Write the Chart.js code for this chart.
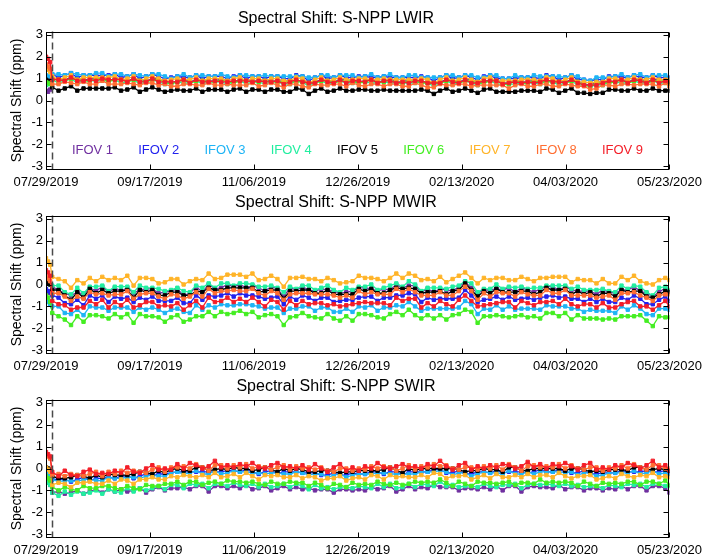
<!DOCTYPE html>
<html><head><meta charset="utf-8">
<script src="https://cdn.jsdelivr.net/npm/chart.js@4.4.1/dist/chart.umd.min.js"></script>
<style>
html,body{margin:0;padding:0;background:#fff;}
body{width:707px;height:557px;overflow:hidden;position:relative;}
.p{position:absolute;left:0;width:707px;height:186px;}
</style>
</head><body>
<div class="p" style="top:0px"><canvas id="c0" width="707" height="186"></canvas></div>
<div class="p" style="top:184px"><canvas id="c1" width="707" height="186"></canvas></div>
<div class="p" style="top:368px"><canvas id="c2" width="707" height="186"></canvas></div>
<script>
// ---- categories / ticks ----
const days = [0,1,2,3,6,9,12,15,18,21,24,27,30,33,36,39,42,45,48,51,54,57,60,63,66,69,72,75,78,81,84,87,90,93,96,99,102,105,108,111,114,117,120,123,126,129,132,135,138,141,144,147,150,153,156,159,162,165,168,171,174,177,180,183,186,189,192,195,198,201,204,207,210,213,216,219,222,225,228,231,234,237,240,243,246,249,252,255,258,261,264,267,270,273,276,279,282,285,288,291,294,297,299];
const xTickDays = [0,49.83,99.67,149.5,199.33,249.17,299];
const xTickLabels = ['07/29/2019','09/17/2019','11/06/2019','12/26/2019','02/13/2020','04/03/2020','05/23/2020'];
const yTicks = [-3,-2,-1,0,1,2,3];
const dashDay = 2.75;
const ifovNames = ['IFOV 1','IFOV 2','IFOV 3','IFOV 4','IFOV 5','IFOV 6','IFOV 7','IFOV 8','IFOV 9'];
const ifovColors = ['#7030A0','#2222EE','#1EB4F5','#22EEA0','#000000','#44EE22','#FFB428','#FF6E32','#F41E28'];
const panelTitles = ['Spectral Shift: S-NPP LWIR','Spectral Shift: S-NPP MWIR','Spectral Shift: S-NPP SWIR'];

// ---- LWIR ----
const lwir1 = [0.45,0.4,0.5, 1.0,1.0,0.95,1.05,1.0,0.95,0.95,1.05,1.05,0.9, 1.0,1.0,0.9,1.0,0.95,0.9,1.0,1.0,0.9,0.8, 0.9,1.0,0.85,0.95,0.95,0.9,0.9,1.0,0.9,0.85, 0.95,0.95,0.9,0.9,0.95,0.9,0.9,0.9,0.9,0.9, 0.9,0.85,0.85,0.95,0.95,0.85,0.95,0.95,0.95,0.85, 0.9,1.0,0.85,0.9,1.0,0.85,0.85,0.95,0.95,0.85, 0.85,0.85,0.85,0.95,0.95,0.85,0.95,0.95,0.85,0.85, 0.95,0.95,0.8,0.8,0.95,0.85,0.85,0.95,0.9,0.9, 0.9,0.9,0.85,0.95,0.9,0.75,0.7,0.85,0.85,0.85, 0.9,1.0,0.85,0.95,1.0,0.85,0.95,0.95,0.95,0.8];
const lwir2 = [1.1,1.05,1.0, 1.2,1.05,1.15,1.25,1.05,1.15,1.15,1.15,1.15,1.15, 1.2,1.05,1.1,1.2,1.0,1.1,1.2,1.1,1.0,1.05, 1.1,1.05,1.05,1.15,1.0,1.1,1.1,1.1,1.0,1.1, 1.15,1.0,1.1,1.1,1.0,1.1,1.1,1.0,1.0,1.15, 1.1,0.9,1.05,1.15,1.0,1.05,1.15,1.05,1.05,1.1, 1.1,1.05,1.05,1.1,1.05,1.05,1.05,1.05,1.05,1.1, 1.05,0.9,1.05,1.15,1.0,1.05,1.15,1.05,0.95,1.1, 1.15,1.0,1.0,1.0,1.0,1.05,1.05,1.05,1.0,1.15, 1.1,0.95,1.05,1.15,0.95,0.95,0.9,0.95,0.95,1.1, 1.1,1.05,1.05,1.15,1.05,1.05,1.15,1.05,1.05,1.05];
const lwir3 = [1.15,1.1,1.05, 1.2,1.2,1.15,1.25,1.2,1.15,1.15,1.25,1.25,1.1, 1.2,1.2,1.1,1.2,1.15,1.1,1.2,1.2,1.1,1.0, 1.1,1.2,1.05,1.15,1.15,1.1,1.1,1.2,1.1,1.05, 1.15,1.15,1.1,1.1,1.15,1.1,1.1,1.1,1.1,1.1, 1.1,1.05,1.05,1.15,1.15,1.05,1.15,1.15,1.15,1.05, 1.1,1.2,1.05,1.1,1.2,1.05,1.05,1.15,1.15,1.05, 1.05,1.05,1.05,1.15,1.15,1.05,1.15,1.15,1.05,1.05, 1.15,1.15,1.0,1.0,1.15,1.05,1.05,1.15,1.1,1.1, 1.1,1.1,1.05,1.15,1.1,0.95,0.9,1.05,1.05,1.05, 1.1,1.2,1.05,1.15,1.2,1.05,1.15,1.15,1.15,1.0];
const lwir4 = [0.7,0.75,0.8, 0.95,0.8,0.9,1.0,0.8,0.9,0.9,0.9,0.9,0.9, 0.95,0.8,0.85,0.95,0.75,0.85,0.95,0.85,0.75,0.8, 0.85,0.8,0.8,0.9,0.75,0.85,0.85,0.85,0.75,0.85, 0.9,0.75,0.85,0.85,0.75,0.85,0.85,0.75,0.75,0.9, 0.85,0.65,0.8,0.9,0.75,0.8,0.9,0.8,0.8,0.85, 0.85,0.8,0.8,0.85,0.8,0.8,0.8,0.8,0.8,0.85, 0.8,0.65,0.8,0.9,0.75,0.8,0.9,0.8,0.7,0.85, 0.9,0.75,0.75,0.75,0.75,0.8,0.8,0.8,0.75,0.9, 0.85,0.7,0.8,0.9,0.7,0.7,0.65,0.7,0.7,0.85, 0.85,0.8,0.8,0.9,0.8,0.8,0.9,0.8,0.8,0.8];
const lwir5 = [0.95,0.9,0.85, 0.6,0.45,0.55,0.65,0.45,0.55,0.55,0.55,0.55,0.55, 0.6,0.45,0.5,0.6,0.4,0.5,0.6,0.5,0.4,0.45, 0.5,0.45,0.45,0.55,0.4,0.5,0.5,0.5,0.4,0.5, 0.55,0.4,0.5,0.5,0.4,0.5,0.5,0.4,0.4,0.55, 0.5,0.3,0.45,0.55,0.4,0.45,0.55,0.45,0.45,0.5, 0.5,0.45,0.45,0.5,0.45,0.45,0.45,0.45,0.45,0.5, 0.45,0.3,0.45,0.55,0.4,0.45,0.55,0.45,0.35,0.5, 0.55,0.4,0.4,0.4,0.4,0.45,0.45,0.45,0.4,0.55, 0.5,0.35,0.45,0.55,0.35,0.35,0.3,0.35,0.35,0.5, 0.5,0.45,0.45,0.55,0.45,0.45,0.55,0.45,0.45,0.45];
const lwir6 = [0.85,0.8,0.75, 0.95,0.95,0.9,1.0,0.95,0.9,0.9,1.0,1.0,0.85, 0.95,0.95,0.85,0.95,0.9,0.85,0.95,0.95,0.85,0.75, 0.85,0.95,0.8,0.9,0.9,0.85,0.85,0.95,0.85,0.8, 0.9,0.9,0.85,0.85,0.9,0.85,0.85,0.85,0.85,0.85, 0.85,0.8,0.8,0.9,0.9,0.8,0.9,0.9,0.9,0.8, 0.85,0.95,0.8,0.85,0.95,0.8,0.8,0.9,0.9,0.8, 0.8,0.8,0.8,0.9,0.9,0.8,0.9,0.9,0.8,0.8, 0.9,0.9,0.75,0.75,0.9,0.8,0.8,0.9,0.85,0.85, 0.85,0.85,0.8,0.9,0.85,0.7,0.65,0.8,0.8,0.8, 0.85,0.95,0.8,0.9,0.95,0.8,0.9,0.9,0.9,0.75];
const lwir7 = [1.45,1.4,1.3, 1.1,0.95,1.05,1.15,0.95,1.05,1.05,1.05,1.05,1.05, 1.1,0.95,1.0,1.1,0.9,1.0,1.1,1.0,0.9,0.95, 1.0,0.95,0.95,1.05,0.9,1.0,1.0,1.0,0.9,1.0, 1.05,0.9,1.0,1.0,0.9,1.0,1.0,0.9,0.9,1.05, 1.0,0.8,0.95,1.05,0.9,0.95,1.05,0.95,0.95,1.0, 1.0,0.95,0.95,1.0,0.95,0.95,0.95,0.95,0.95,1.0, 0.95,0.8,0.95,1.05,0.9,0.95,1.05,0.95,0.85,1.0, 1.05,0.9,0.9,0.9,0.9,0.95,0.95,0.95,0.9,1.05, 1.0,0.85,0.95,1.05,0.85,0.85,0.8,0.85,0.85,1.0, 1.0,0.95,0.95,1.05,0.95,0.95,1.05,0.95,0.95,0.95];
const lwir8 = [1.65,1.55,1.45, 0.75,0.75,0.85,0.8,0.75,0.85,0.75,0.75,0.9,0.75, 0.75,0.75,0.8,0.75,0.7,0.8,0.8,0.7,0.75,0.65, 0.65,0.75,0.75,0.7,0.7,0.8,0.7,0.7,0.75,0.7, 0.7,0.7,0.8,0.65,0.7,0.8,0.7,0.6,0.75,0.75, 0.65,0.6,0.75,0.7,0.7,0.75,0.75,0.65,0.8,0.7, 0.65,0.75,0.75,0.65,0.75,0.75,0.65,0.65,0.8,0.7, 0.6,0.6,0.75,0.7,0.7,0.75,0.75,0.65,0.7,0.7, 0.7,0.7,0.7,0.55,0.7,0.75,0.65,0.65,0.75,0.75, 0.65,0.65,0.75,0.7,0.65,0.65,0.5,0.55,0.7,0.7, 0.65,0.75,0.75,0.7,0.75,0.75,0.75,0.65,0.8,0.65];
const lwir9 = [2.0,1.9,1.75, 0.95,0.95,0.9,1.05,0.9,0.9,0.95,0.9,1.0,0.95, 0.95,0.95,0.85,1.0,0.85,0.85,1.0,0.85,0.85,0.85, 0.85,0.95,0.8,0.95,0.85,0.85,0.9,0.85,0.85,0.9, 0.9,0.9,0.85,0.9,0.85,0.85,0.9,0.75,0.85,0.95, 0.85,0.8,0.8,0.95,0.85,0.8,0.95,0.8,0.9,0.9, 0.85,0.95,0.8,0.9,0.9,0.8,0.85,0.8,0.9,0.9, 0.8,0.8,0.8,0.95,0.85,0.8,0.95,0.8,0.8,0.9, 0.9,0.9,0.75,0.8,0.85,0.8,0.85,0.8,0.85,0.95, 0.85,0.85,0.8,0.95,0.8,0.7,0.7,0.7,0.8,0.9, 0.85,0.95,0.8,0.95,0.9,0.8,0.95,0.8,0.9,0.85];

// ---- MWIR ----
const mwir1 = [-0.3,-0.35,-0.4, -0.1,-0.25,-0.4,-0.5,-0.35,-0.45,-0.15,-0.3,-0.1,-0.35, -0.15,-0.3,-0.15,-0.4,-0.25,-0.2,-0.2,-0.4,-0.35,-0.3, -0.2,-0.5,-0.4,-0.1,-0.35,0,-0.2,-0.15,0,-0.1, 0,-0.15,-0.05,-0.15,-0.3,-0.1,-0.2,-0.55,-0.15,-0.25, -0.1,-0.25,-0.3,-0.2,-0.25,-0.3,-0.4,-0.35,-0.3,-0.15, -0.15,-0.2,-0.3,-0.2,-0.25,0,-0.15,-0.05,-0.05,-0.35, -0.2,-0.35,-0.2,-0.25,-0.3,-0.1,0.1,-0.15,-0.4,-0.25, -0.25,-0.2,-0.25,-0.15,-0.35,-0.15,-0.25,-0.35,-0.2,-0.1, -0.1,-0.25,-0.1,-0.25,-0.3,-0.3,-0.3,-0.45,-0.25,-0.35, -0.4,-0.25,-0.25,-0.1,-0.3,-0.4,-0.55,-0.35,-0.15,-0.3];
const mwir2 = [-0.2,-0.3,-0.35, -0.5,-0.6,-0.85,-0.9,-0.7,-0.95,-0.5,-0.65,-0.5,-0.8, -0.55,-0.65,-0.6,-0.8,-0.6,-0.7,-0.55,-0.75,-0.75,-0.75, -0.6,-0.85,-0.85,-0.5,-0.7,-0.5,-0.55,-0.5,-0.4,-0.55, -0.4,-0.5,-0.5,-0.55,-0.65,-0.6,-0.55,-0.9,-0.55,-0.7, -0.5,-0.6,-0.75,-0.6,-0.6,-0.8,-0.75,-0.7,-0.7,-0.6, -0.55,-0.55,-0.75,-0.6,-0.6,-0.5,-0.5,-0.4,-0.45,-0.8, -0.6,-0.7,-0.65,-0.65,-0.65,-0.6,-0.25,-0.5,-0.8,-0.7, -0.65,-0.55,-0.7,-0.55,-0.7,-0.65,-0.6,-0.7,-0.6,-0.55, -0.5,-0.6,-0.55,-0.65,-0.65,-0.8,-0.65,-0.8,-0.65,-0.8, -0.8,-0.6,-0.7,-0.5,-0.65,-0.9,-0.9,-0.7,-0.55,-0.75];
const mwir3 = [-0.7,-0.8,-0.9, -1.0,-1.0,-1.3,-1.35,-1.15,-1.4,-1.0,-1.05,-1.05,-1.2, -1.05,-1.05,-1.05,-1.25,-1.05,-1.15,-1.05,-1.15,-1.3,-1.15, -1.1,-1.25,-1.3,-0.95,-1.15,-0.95,-1.05,-0.9,-0.95,-0.95, -0.9,-0.9,-0.95,-1.0,-1.1,-1.05,-1.05,-1.3,-1.1,-1.1, -1.0,-1.0,-1.2,-1.05,-1.05,-1.25,-1.25,-1.1,-1.25,-1.0, -1.05,-0.95,-1.2,-1.05,-1.05,-0.95,-1.0,-0.8,-1.0,-1.2, -1.1,-1.1,-1.1,-1.1,-1.1,-1.05,-0.75,-0.9,-1.35,-1.1, -1.15,-0.95,-1.15,-1.0,-1.15,-1.1,-1.1,-1.1,-1.15,-0.95, -1.0,-1.0,-1.0,-1.1,-1.1,-1.25,-1.15,-1.2,-1.2,-1.2, -1.3,-1.0,-1.15,-0.95,-1.1,-1.35,-1.4,-1.1,-1.1,-1.15];
const mwir4 = [0.2,0.1,0.0, -0.05,-0.05,-0.35,-0.45,-0.15,-0.4,-0.1,-0.1,-0.05,-0.3, -0.1,-0.1,-0.1,-0.35,-0.05,-0.15,-0.15,-0.2,-0.3,-0.25, -0.15,-0.3,-0.35,-0.05,-0.15,0.05,-0.15,0.05,0.05,-0.05, 0.05,0.05,0,-0.1,-0.1,-0.05,-0.15,-0.35,-0.1,-0.2, -0.05,-0.05,-0.25,-0.15,-0.05,-0.25,-0.35,-0.15,-0.25,-0.1, -0.1,0,-0.25,-0.15,-0.05,0.05,-0.1,0.15,0,-0.3, -0.15,-0.15,-0.15,-0.2,-0.1,-0.05,0.15,0.05,-0.35,-0.2, -0.2,0,-0.2,-0.1,-0.15,-0.1,-0.2,-0.15,-0.15,-0.05, -0.05,-0.05,-0.05,-0.2,-0.1,-0.25,-0.25,-0.25,-0.2,-0.3, -0.35,-0.05,-0.2,-0.05,-0.1,-0.35,-0.5,-0.15,-0.1,-0.25];
const mwir5 = [0.1,0.05,0.0, -0.25,-0.25,-0.5,-0.7,-0.35,-0.6,-0.2,-0.4,-0.25,-0.4, -0.3,-0.3,-0.25,-0.6,-0.25,-0.35,-0.25,-0.5,-0.5,-0.35, -0.35,-0.5,-0.5,-0.3,-0.35,-0.15,-0.25,-0.25,-0.15,-0.15, -0.15,-0.15,-0.15,-0.35,-0.3,-0.25,-0.25,-0.65,-0.3,-0.3, -0.25,-0.25,-0.4,-0.4,-0.25,-0.45,-0.45,-0.45,-0.45,-0.2, -0.3,-0.2,-0.4,-0.4,-0.25,-0.15,-0.2,-0.15,-0.2,-0.4, -0.35,-0.35,-0.3,-0.45,-0.3,-0.25,0.05,-0.25,-0.55,-0.3, -0.4,-0.2,-0.35,-0.35,-0.35,-0.3,-0.3,-0.45,-0.35,-0.15, -0.25,-0.25,-0.2,-0.45,-0.3,-0.45,-0.35,-0.55,-0.4,-0.4, -0.55,-0.25,-0.35,-0.3,-0.3,-0.55,-0.6,-0.45,-0.3,-0.35];
const mwir6 = [-0.5,-0.6,-0.8, -1.3,-1.45,-1.6,-1.85,-1.45,-1.7,-1.4,-1.4,-1.45,-1.55, -1.35,-1.5,-1.35,-1.75,-1.35,-1.45,-1.45,-1.5,-1.7,-1.5, -1.4,-1.7,-1.6,-1.45,-1.45,-1.25,-1.45,-1.25,-1.35,-1.3, -1.2,-1.35,-1.25,-1.5,-1.4,-1.35,-1.45,-1.85,-1.5,-1.45, -1.3,-1.45,-1.5,-1.55,-1.35,-1.55,-1.65,-1.45,-1.65,-1.35, -1.35,-1.4,-1.5,-1.55,-1.35,-1.25,-1.4,-1.15,-1.4,-1.55, -1.4,-1.55,-1.4,-1.6,-1.4,-1.35,-1.15,-1.25,-1.75,-1.45, -1.45,-1.4,-1.45,-1.5,-1.45,-1.4,-1.5,-1.45,-1.55,-1.3, -1.3,-1.45,-1.3,-1.6,-1.4,-1.55,-1.55,-1.55,-1.6,-1.55, -1.6,-1.45,-1.45,-1.45,-1.4,-1.65,-1.9,-1.45,-1.5,-1.5];
const mwir7 = [1.2,1.05,0.9, 0.35,0.25,0.15,-0.15,0.2,0.05,0.3,0.15,0.35,0.2, 0.3,0.2,0.4,-0.05,0.3,0.3,0.25,0.05,0.1,0.25, 0.25,0,0.15,0.25,0.2,0.5,0.25,0.3,0.45,0.45, 0.45,0.35,0.5,0.2,0.25,0.4,0.25,-0.1,0.3,0.3, 0.35,0.25,0.25,0.15,0.3,0.2,0.05,0.1,0.15,0.4, 0.3,0.3,0.25,0.15,0.3,0.5,0.3,0.5,0.4,0.2, 0.25,0.15,0.35,0.1,0.25,0.4,0.55,0.3,0.05,0.3, 0.2,0.3,0.3,0.2,0.2,0.35,0.25,0.15,0.3,0.3, 0.35,0.35,0.35,0.1,0.25,0.2,0.2,0.05,0.25,0.05, 0.05,0.35,0.2,0.4,0.15,0.05,0,0.2,0.3,0.2];
const mwir8 = [0.35,0.25,0.15, -0.4,-0.4,-0.55,-0.75,-0.55,-0.65,-0.35,-0.45,-0.4,-0.5, -0.45,-0.45,-0.3,-0.65,-0.45,-0.4,-0.4,-0.55,-0.65,-0.45, -0.5,-0.65,-0.55,-0.35,-0.55,-0.2,-0.4,-0.3,-0.3,-0.25, -0.3,-0.3,-0.2,-0.4,-0.5,-0.3,-0.4,-0.7,-0.45,-0.4, -0.4,-0.4,-0.45,-0.45,-0.45,-0.5,-0.6,-0.5,-0.6,-0.3, -0.45,-0.35,-0.45,-0.45,-0.45,-0.2,-0.35,-0.2,-0.35,-0.5, -0.5,-0.5,-0.35,-0.5,-0.5,-0.3,-0.1,-0.3,-0.7,-0.4, -0.55,-0.35,-0.4,-0.4,-0.55,-0.35,-0.45,-0.5,-0.5,-0.25, -0.4,-0.4,-0.25,-0.5,-0.5,-0.5,-0.5,-0.6,-0.55,-0.5, -0.7,-0.4,-0.4,-0.35,-0.5,-0.6,-0.75,-0.5,-0.45,-0.45];
const mwir9 = [0.65,0.55,0.4, -0.75,-0.9,-0.95,-1.15,-1.05,-1.05,-0.75,-0.9,-0.7,-1.05, -0.8,-0.95,-0.7,-1.05,-0.95,-0.8,-0.8,-1.0,-0.95,-1.0, -0.85,-1.15,-0.95,-0.75,-1.05,-0.6,-0.8,-0.75,-0.6,-0.8, -0.65,-0.8,-0.6,-0.8,-1.0,-0.7,-0.8,-1.15,-0.75,-0.95, -0.75,-0.9,-0.85,-0.85,-0.95,-0.9,-1.0,-0.95,-0.9,-0.85, -0.8,-0.85,-0.85,-0.85,-0.95,-0.6,-0.75,-0.65,-0.65,-1.05, -0.85,-1.0,-0.75,-0.9,-1.0,-0.7,-0.5,-0.75,-1.0,-0.95, -0.9,-0.85,-0.8,-0.8,-1.05,-0.75,-0.85,-0.95,-0.8,-0.8, -0.75,-0.9,-0.65,-0.9,-1.0,-0.9,-0.9,-1.05,-0.85,-1.05, -1.05,-0.9,-0.8,-0.75,-1.0,-1.0,-1.15,-0.95,-0.75,-1.0];

// ---- SWIR ----
const swir1 = [-0.55,-0.65,-0.75, -1.1,-1.05,-1.15,-1.1,-1.0,-1.15,-1.05,-0.95,-1.1,-0.95, -1.05,-0.95,-1.05,-1.0,-0.9,-1.1,-0.95,-0.85,-1.0,-0.9, -0.9,-0.85,-0.95,-0.8,-0.8,-1.05,-0.8,-0.8,-0.9,-0.8, -0.9,-0.75,-0.95,-0.9,-0.8,-1.0,-0.9,-0.8,-0.95,-0.85, -0.95,-0.9,-1.0,-0.95,-0.95,-1.1,-0.95,-0.95,-1.0,-0.95, -1.0,-0.85,-0.95,-0.9,-0.8,-1.05,-0.95,-0.8,-0.95,-0.85, -0.9,-0.75,-0.85,-0.85,-0.85,-1.0,-0.9,-0.9,-0.95,-0.85, -0.95,-0.8,-1.0,-0.8,-0.8,-1.05,-0.85,-0.8,-0.85,-0.85, -0.9,-0.75,-0.95,-0.85,-0.85,-1.0,-0.9,-0.9,-1.0,-0.9, -0.95,-0.8,-0.95,-0.8,-0.8,-1.0,-0.8,-0.8,-0.9,-1.1];
const swir2 = [-0.3,-0.35,-0.4, -0.5,-0.5,-0.5,-0.6,-0.5,-0.4,-0.55,-0.45,-0.45,-0.4, -0.45,-0.35,-0.35,-0.45,-0.35,-0.25,-0.35,-0.25,-0.25,-0.2, -0.15,-0.15,-0.15,-0.15,-0.15,-0.15,-0.15,-0.15,-0.1,-0.1, -0.15,-0.05,-0.15,-0.25,-0.15,-0.1,-0.25,-0.15,-0.15,-0.15, -0.2,-0.2,-0.2,-0.3,-0.3,-0.2,-0.3,-0.3,-0.2,-0.25, -0.25,-0.15,-0.15,-0.25,-0.15,-0.15,-0.3,-0.15,-0.15,-0.15, -0.15,-0.05,-0.05,-0.2,-0.2,-0.1,-0.25,-0.25,-0.15,-0.15, -0.2,-0.1,-0.2,-0.15,-0.15,-0.15,-0.2,-0.15,-0.05,-0.15, -0.15,-0.05,-0.15,-0.2,-0.2,-0.1,-0.25,-0.25,-0.2,-0.2, -0.2,-0.1,-0.15,-0.15,-0.15,-0.1,-0.15,-0.15,-0.1,-0.25];
const swir3 = [-0.2,-0.25,-0.3, -0.5,-0.6,-0.55,-0.55,-0.6,-0.5,-0.5,-0.55,-0.55,-0.4, -0.45,-0.45,-0.4,-0.4,-0.45,-0.35,-0.3,-0.35,-0.35,-0.2, -0.15,-0.25,-0.2,-0.1,-0.25,-0.25,-0.1,-0.25,-0.2,-0.1, -0.15,-0.15,-0.2,-0.2,-0.25,-0.2,-0.2,-0.25,-0.25,-0.15, -0.2,-0.3,-0.25,-0.25,-0.4,-0.3,-0.25,-0.4,-0.3,-0.25, -0.25,-0.25,-0.2,-0.2,-0.25,-0.25,-0.25,-0.25,-0.25,-0.15, -0.15,-0.15,-0.1,-0.15,-0.3,-0.2,-0.2,-0.35,-0.25,-0.15, -0.2,-0.2,-0.25,-0.1,-0.25,-0.25,-0.15,-0.25,-0.15,-0.15, -0.15,-0.15,-0.2,-0.15,-0.3,-0.2,-0.2,-0.35,-0.3,-0.2, -0.2,-0.2,-0.2,-0.1,-0.25,-0.2,-0.1,-0.25,-0.2,-0.25];
const swir4 = [-0.55,-0.65,-0.75, -1.1,-1.25,-1.05,-1.2,-1.05,-1.15,-1.1,-1.0,-1.15,-0.95, -1.05,-1.1,-0.9,-1.05,-0.9,-1.0,-0.9,-0.8,-0.95,-0.75, -0.75,-0.9,-0.7,-0.75,-0.7,-0.9,-0.7,-0.7,-0.8,-0.65, -0.75,-0.8,-0.7,-0.85,-0.7,-0.85,-0.8,-0.7,-0.85,-0.7, -0.8,-0.95,-0.75,-0.9,-0.85,-0.95,-0.85,-0.85,-0.9,-0.8, -0.85,-0.9,-0.7,-0.85,-0.7,-0.9,-0.85,-0.7,-0.85,-0.7, -0.75,-0.8,-0.6,-0.8,-0.75,-0.85,-0.8,-0.8,-0.85,-0.7, -0.8,-0.85,-0.75,-0.75,-0.7,-0.9,-0.75,-0.7,-0.75,-0.7, -0.75,-0.8,-0.7,-0.8,-0.75,-0.85,-0.8,-0.8,-0.9,-0.75, -0.8,-0.85,-0.7,-0.75,-0.7,-0.85,-0.7,-0.7,-0.8,-0.8];
const swir5 = [0.05,0,-0.05, -0.35,-0.45,-0.45,-0.4,-0.3,-0.35,-0.45,-0.3,-0.4,-0.25, -0.3,-0.3,-0.3,-0.25,-0.15,-0.2,-0.25,-0.1,-0.2,-0.05, 0,-0.1,-0.1,0.05,0.05,-0.1,-0.05,0,-0.05,0.05, 0,0,-0.1,-0.05,0.05,-0.05,-0.15,0,-0.1,0, -0.05,-0.15,-0.15,-0.1,-0.1,-0.15,-0.2,-0.15,-0.15,-0.1, -0.1,-0.1,-0.1,-0.05,0.05,-0.1,-0.2,0,-0.1,0, 0,0,0,0,0,-0.05,-0.15,-0.1,-0.1,0, -0.05,-0.05,-0.15,0.05,0.05,-0.1,-0.1,0,0,0, 0,0,-0.1,0,0,-0.05,-0.15,-0.1,-0.15,-0.05, -0.05,-0.05,-0.1,0.05,0.05,-0.05,-0.05,0,-0.05,-0.1];
const swir6 = [-0.35,-0.45,-0.55, -0.85,-1.0,-0.85,-0.95,-1.0,-0.8,-0.9,-0.9,-0.8,-0.8, -0.9,-0.95,-0.8,-0.9,-0.95,-0.75,-0.8,-0.8,-0.7,-0.7, -0.6,-0.75,-0.6,-0.6,-0.75,-0.65,-0.6,-0.7,-0.55,-0.6, -0.6,-0.65,-0.6,-0.7,-0.75,-0.6,-0.7,-0.7,-0.6,-0.65, -0.65,-0.8,-0.65,-0.75,-0.9,-0.7,-0.75,-0.85,-0.65,-0.75, -0.7,-0.75,-0.6,-0.7,-0.75,-0.65,-0.75,-0.7,-0.6,-0.65, -0.6,-0.65,-0.5,-0.65,-0.8,-0.6,-0.7,-0.8,-0.6,-0.65, -0.65,-0.7,-0.65,-0.6,-0.75,-0.65,-0.65,-0.7,-0.5,-0.65, -0.6,-0.65,-0.6,-0.65,-0.8,-0.6,-0.7,-0.8,-0.65,-0.7, -0.65,-0.7,-0.6,-0.6,-0.75,-0.6,-0.6,-0.7,-0.55,-0.75];
const swir7 = [0.05,-0.05,-0.15, -0.75,-0.65,-0.7,-0.85,-0.65,-0.65,-0.6,-0.7,-0.7,-0.55, -0.7,-0.5,-0.55,-0.7,-0.5,-0.5,-0.4,-0.5,-0.5,-0.35, -0.4,-0.3,-0.35,-0.4,-0.3,-0.4,-0.2,-0.4,-0.35,-0.25, -0.4,-0.2,-0.35,-0.5,-0.3,-0.35,-0.3,-0.4,-0.4,-0.3, -0.45,-0.35,-0.4,-0.55,-0.45,-0.45,-0.35,-0.55,-0.45,-0.4, -0.5,-0.3,-0.35,-0.5,-0.3,-0.4,-0.35,-0.4,-0.4,-0.3, -0.4,-0.2,-0.25,-0.45,-0.35,-0.35,-0.3,-0.5,-0.4,-0.3, -0.45,-0.25,-0.4,-0.4,-0.3,-0.4,-0.25,-0.4,-0.3,-0.3, -0.4,-0.2,-0.35,-0.45,-0.35,-0.35,-0.3,-0.5,-0.45,-0.35, -0.45,-0.25,-0.35,-0.4,-0.3,-0.35,-0.2,-0.4,-0.35,-0.4];
const swir8 = [0.6,0.55,0.45, -0.3,-0.25,-0.35,-0.25,-0.3,-0.35,-0.25,-0.15,-0.35,-0.15, -0.25,-0.1,-0.2,-0.1,-0.15,-0.2,-0.05,0.05,-0.15,0.05, 0.05,0.1,0,0.2,0.05,-0.1,0.15,0.15,0,0.15, 0.05,0.2,0,0.1,0.05,-0.05,0.05,0.15,-0.05,0.1, 0,0.05,-0.05,0.05,-0.1,-0.15,0,0,-0.1,0, -0.05,0.1,0,0.1,0.05,-0.1,0,0.15,-0.05,0.1, 0.05,0.2,0.1,0.15,0,-0.05,0.05,0.05,-0.05,0.1, 0,0.15,-0.05,0.2,0.05,-0.1,0.1,0.15,0.05,0.1, 0.05,0.2,0,0.15,0,-0.05,0.05,0.05,-0.1,0.05, 0,0.15,0,0.2,0.05,-0.05,0.15,0.15,0,0];
const swir9 = [0.75,0.65,0.55, -0.15,-0.35,-0.1,-0.3,-0.35,-0.15,-0.05,-0.25,-0.2,-0.25, -0.1,-0.2,0.05,-0.15,-0.2,0,0.15,-0.05,0,-0.05, 0.2,0,0.25,0.15,0,0.1,0.35,0.05,0.15,0.05, 0.2,0.1,0.25,0.05,0,0.15,0.25,0.05,0.1,0, 0.15,-0.05,0.2,0,-0.15,0.05,0.2,-0.1,0.05,-0.1, 0.1,0,0.25,0.05,0,0.1,0.2,0.05,0.1,0, 0.2,0.1,0.35,0.1,-0.05,0.15,0.25,-0.05,0.1,0, 0.15,0.05,0.2,0.15,0,0.1,0.3,0.05,0.2,0, 0.2,0.1,0.25,0.1,-0.05,0.15,0.25,-0.05,0.05,-0.05, 0.15,0.05,0.25,0.15,0,0.15,0.35,0.05,0.15,-0.1];

const panelSeries = [
  [lwir1,lwir2,lwir3,lwir4,lwir5,lwir6,lwir7,lwir8,lwir9],
  [mwir1,mwir2,mwir3,mwir4,mwir5,mwir6,mwir7,mwir8,mwir9],
  [swir1,swir2,swir3,swir4,swir5,swir6,swir7,swir8,swir9]
];

const FONT = "'Liberation Sans', Arial, sans-serif";
Chart.defaults.font.family = FONT;
Chart.defaults.color = '#000';

const framePlugin = {
  id: 'frame',
  afterDatasetsDraw(chart) {
    const {ctx, chartArea: a, scales: {x}} = chart;
    const px = Math.round(x.getPixelForValue(dashDay)) + 0.5;
    ctx.save();
    ctx.strokeStyle = '#4a4a4a';
    ctx.lineWidth = 1.5;
    ctx.setLineDash([7, 4]);
    ctx.beginPath();
    ctx.moveTo(px, a.top);
    ctx.lineTo(px, a.bottom);
    ctx.stroke();
    ctx.restore();
  },
  afterDraw(chart) {
    const {ctx, chartArea: a, scales: {x, y}} = chart;
    const L = Math.round(a.left) + 0.5, R = Math.round(a.right) - 0.5;
    const T = Math.round(a.top) + 0.5, B = Math.round(a.bottom) - 0.5;
    ctx.save();
    ctx.strokeStyle = '#000';
    ctx.lineWidth = 1;
    ctx.strokeRect(L, T, R - L, B - T);
    ctx.beginPath();
    xTickDays.forEach(v => {
      const p = Math.round(x.getPixelForValue(v)) + 0.5;
      ctx.moveTo(p, B); ctx.lineTo(p, B - 5);
      ctx.moveTo(p, T); ctx.lineTo(p, T + 5);
    });
    yTicks.forEach(v => {
      const p = Math.round(y.getPixelForValue(v)) + 0.5;
      ctx.moveTo(L, p); ctx.lineTo(L + 5, p);
      ctx.moveTo(R, p); ctx.lineTo(R - 5, p);
    });
    ctx.stroke();
    ctx.restore();
  }
};

const legendPlugin = {
  id: 'inlineLegend',
  afterDraw(chart) {
    if (!chart.options.plugins.inlineLegend || !chart.options.plugins.inlineLegend.show) return;
    const {ctx, chartArea: a} = chart;
    ctx.save();
    ctx.font = '13px ' + FONT;
    ctx.textAlign = 'center';
    ctx.textBaseline = 'middle';
    chart.data.datasets.forEach((ds, i) => {
      ctx.fillStyle = ds.borderColor;
      ctx.fillText(ds.label, a.left + 46.5 + i * 66.25, a.bottom - 19);
    });
    ctx.restore();
  }
};

panelSeries.forEach((series, p) => {
  const datasets = series.map((arr, i) => ({
    label: ifovNames[i],
    data: days.map((d, j) => ({x: d, y: arr[j]})),
    borderColor: ifovColors[i],
    backgroundColor: ifovColors[i],
    pointBackgroundColor: ifovColors[i],
    pointBorderColor: ifovColors[i],
    borderWidth: 1.3,
    pointStyle: 'rect',
    pointRadius: 2.4,
    pointBorderWidth: 1,
    pointHoverRadius: 0,
    tension: 0,
    order: 8 - i
  }));
  new Chart(document.getElementById('c' + p), {
    type: 'line',
    data: {datasets},
    plugins: [framePlugin, legendPlugin],
    options: {
      responsive: false,
      animation: false,
      events: [],
      layout: {padding: {left: 0, right: 35, top: 0, bottom: 0}},
      plugins: {
        legend: {display: false},
        tooltip: {enabled: false},
        inlineLegend: {show: p === 0},
        title: {
          display: true,
          text: panelTitles[p],
          color: '#000',
          font: {family: FONT, size: 16, weight: 'normal'},
          padding: {top: 9, bottom: 3.3}
        }
      },
      scales: {
        x: {
          type: 'linear',
          min: 0, max: 299,
          afterBuildTicks: s => { s.ticks = xTickDays.map(v => ({value: v})); },
          afterFit: s => { s.height = 16.5; },
          ticks: {
            autoSkip: false, maxRotation: 0, minRotation: 0,
            callback: (v, i) => xTickLabels[i],
            font: {family: FONT, size: 13},
            color: '#000',
            padding: 5
          },
          grid: {display: false, drawTicks: false},
          border: {display: false}
        },
        y: {
          type: 'linear',
          min: -3.15, max: 3.15,
          afterBuildTicks: s => { s.ticks = yTicks.map(v => ({value: v})); },
          afterFit: s => { s.width = 46; },
          ticks: {
            font: {family: FONT, size: 13},
            color: '#000',
            padding: 3,
            callback: v => String(v)
          },
          title: {
            display: true,
            text: 'Spectral Shift (ppm)',
            color: '#000',
            font: {family: FONT, size: 14},
            padding: {top: 8.3, bottom: 0}
          },
          grid: {display: false, drawTicks: false},
          border: {display: false}
        }
      }
    }
  });
});
</script>
</body></html>
